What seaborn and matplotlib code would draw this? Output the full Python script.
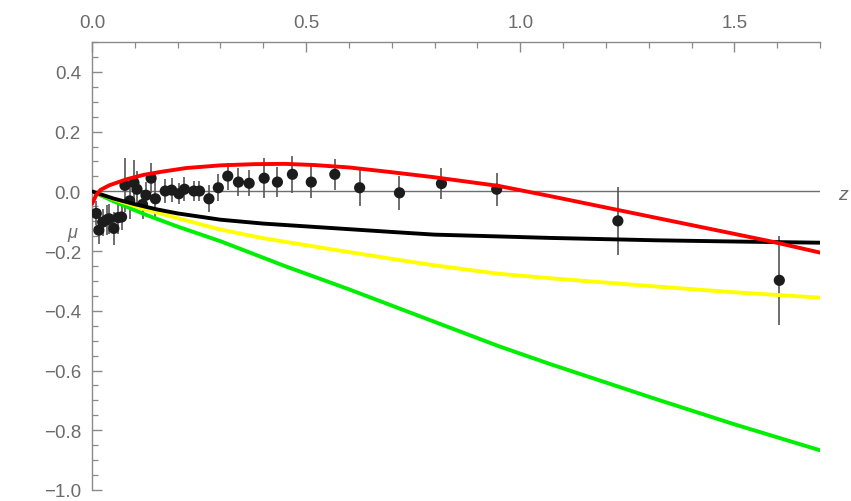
import numpy as np
import pandas as pd
import matplotlib
matplotlib.use("Agg")
import matplotlib.pyplot as plt
import seaborn as sns
from matplotlib.ticker import MultipleLocator, FixedLocator

# Supernova-type residual data: redshift, distance-modulus residual, 1-sigma error
z_obs = [0.010, 0.016, 0.025, 0.035, 0.040, 0.051, 0.061, 0.069, 0.077, 0.088,
         0.098, 0.105, 0.118, 0.126, 0.138, 0.148, 0.171, 0.186, 0.203, 0.216,
         0.238, 0.251, 0.273, 0.295, 0.317, 0.342, 0.367, 0.402, 0.433, 0.468,
         0.512, 0.567, 0.625, 0.718, 0.816, 0.945, 1.228, 1.605]
mu_obs = [-0.074, -0.130, -0.103, -0.095, -0.092, -0.124, -0.088, -0.086, 0.020, -0.032,
          0.029, 0.007, -0.044, -0.013, 0.044, -0.025, 0.001, 0.004, -0.008, 0.007,
          0.001, 0.001, -0.025, 0.012, 0.051, 0.031, 0.027, 0.044, 0.031, 0.057,
          0.031, 0.057, 0.012, -0.005, 0.026, 0.007, -0.099, -0.298]
mu_err = [0.040, 0.045, 0.045, 0.050, 0.050, 0.055, 0.055, 0.045, 0.090, 0.060,
          0.075, 0.060, 0.050, 0.045, 0.050, 0.070, 0.040, 0.040, 0.035, 0.040,
          0.035, 0.035, 0.045, 0.045, 0.045, 0.047, 0.044, 0.066, 0.050, 0.061,
          0.054, 0.051, 0.061, 0.056, 0.051, 0.056, 0.114, 0.149]

# Model curves (sampled)
z_red = [0.0, 0.01, 0.02, 0.04, 0.08, 0.12, 0.16, 0.22, 0.30, 0.38, 0.45, 0.52,
         0.60, 0.70, 0.80, 0.95, 1.07, 1.23, 1.40, 1.58, 1.70]
mu_red = [-0.042, -0.012, 0.005, 0.020, 0.040, 0.055, 0.065, 0.078, 0.087, 0.091, 0.092, 0.088,
          0.080, 0.064, 0.047, 0.018, -0.016, -0.063, -0.113, -0.166, -0.205]

z_black = [0.0, 0.02, 0.05, 0.10, 0.15, 0.20, 0.30, 0.40, 0.55, 0.70, 0.80, 0.95,
           1.07, 1.32, 1.50, 1.70]
mu_black = [0.0, -0.010, -0.024, -0.043, -0.060, -0.074, -0.095, -0.108, -0.122, -0.136, -0.145, -0.151,
            -0.156, -0.164, -0.168, -0.172]

z_yellow = [0.0, 0.05, 0.123, 0.20, 0.30, 0.40, 0.55, 0.70, 0.80, 0.95, 1.07, 1.32, 1.50, 1.70]
mu_yellow = [0.0, -0.026, -0.060, -0.090, -0.128, -0.157, -0.192, -0.226, -0.248, -0.276, -0.291,
             -0.319, -0.338, -0.356]

z_green = [0.0, 0.05, 0.123, 0.20, 0.30, 0.45, 0.60, 0.80, 0.949, 1.065, 1.32, 1.50, 1.70]
mu_green = [0.0, -0.033, -0.077, -0.118, -0.167, -0.250, -0.328, -0.437, -0.518, -0.576, -0.697,
            -0.780, -0.867]

x_ticks = [0.0, 0.5, 1.0, 1.5]
y_ticks = [0.4, 0.2, 0.0, -0.2, -0.4, -0.6, -0.8, -1.0]

sns.set_style("white")
plt.rcParams["font.family"] = ["Liberation Sans", "DejaVu Sans"]

axis_gray = "#8a8a8a"
label_gray = "#6b6b6b"

fig = plt.figure(figsize=(8.51, 5.02), dpi=100)
ax = fig.add_axes([92 / 851, 1 - 491 / 502, (820 - 92) / 851, (491 - 43) / 502])

# zero reference line
ax.axhline(0.0, color="#6e6e6e", lw=1.0, zorder=1)

obs = pd.DataFrame({"z": z_obs, "mu": mu_obs, "err": mu_err})
ax.errorbar(obs["z"], obs["mu"], yerr=obs["err"], fmt="none", ecolor="#555555",
            elinewidth=1.2, capsize=0, zorder=2)
sns.scatterplot(data=obs, x="z", y="mu", ax=ax, color="#1c1c1c", s=65,
                edgecolor="none", zorder=3, legend=False)

curves = [(z_green, mu_green, "#00ee00"), (z_yellow, mu_yellow, "#ffff00"),
          (z_black, mu_black, "#000000"), (z_red, mu_red, "#ff0000")]
for zz, mm, col in curves:
    df = pd.DataFrame({"z": zz, "mu": mm})
    sns.lineplot(data=df, x="z", y="mu", ax=ax, color=col, lw=2.8, sort=False,
                 estimator=None, zorder=4)

ax.set_xlim(0.0, 1.7)
ax.set_ylim(-1.0, 0.5)

# Mathematica-style frame: axis on top and left only
for side in ["right", "bottom"]:
    ax.spines[side].set_visible(False)
for side in ["top", "left"]:
    ax.spines[side].set_color(axis_gray)
    ax.spines[side].set_linewidth(1.0)

ax.xaxis.set_ticks_position("top")
ax.xaxis.set_label_position("top")
ax.xaxis.set_major_locator(FixedLocator(x_ticks))
ax.xaxis.set_minor_locator(MultipleLocator(0.1))
ax.yaxis.set_major_locator(FixedLocator(y_ticks))
ax.yaxis.set_minor_locator(MultipleLocator(0.05))
ax.set_xticklabels([f"{v:.1f}" for v in x_ticks])
ax.set_yticklabels([f"{v:.1f}".replace("-", "\u2212") for v in y_ticks])

ax.tick_params(axis="both", which="major", direction="in", length=7, width=1.0,
               color=axis_gray, labelcolor=label_gray, labelsize=13.5, pad=8)
ax.tick_params(axis="both", which="minor", direction="in", length=4, width=0.9,
               color=axis_gray)
ax.tick_params(axis="x", which="both", top=True, bottom=False)
ax.tick_params(axis="y", which="both", left=True, right=False)

ax.set_xlabel("")
ax.set_ylabel("")
fig.text(843 / 851, 1 - 195 / 502, "z", color=label_gray, fontsize=14,
         style="italic", ha="center", va="center")
fig.text(72 / 851, 1 - 234 / 502, "\u03bc", color=label_gray, fontsize=13,
         style="italic", ha="center", va="center")

fig.savefig("out.png", dpi=100)
